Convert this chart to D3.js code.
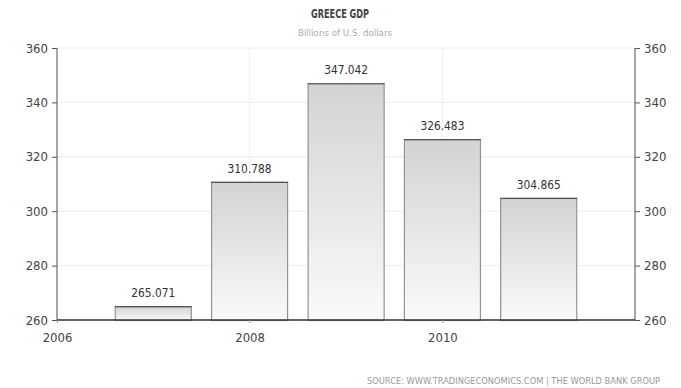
<!DOCTYPE html>
<html>
<head>
<meta charset="utf-8">
<script src="https://cdn.jsdelivr.net/npm/d3@7"></script>
<style>
  html, body { margin: 0; padding: 0; background: #fff; }
  svg { display: block; }
  text { font-family: "DejaVu Sans Condensed", "Liberation Sans Narrow", "DejaVu Sans", sans-serif; }
</style>
</head>
<body>
<svg id="chart" width="681" height="388"></svg>
<script>
// Greece GDP, billions of U.S. dollars
const years = [2007, 2008, 2009, 2010, 2011];
const gdp = [265.071, 310.788, 347.042, 326.483, 304.865];
const yTicks = [260, 280, 300, 320, 340, 360];
const xTickYears = [2006, 2008, 2010];
const gridYears = [2008, 2010];

const svg = d3.select("#chart");
const plotL = 57, plotR = 635, plotT = 48, plotB = 320;

const x = d3.scaleTime()
  .domain([new Date(2006, 0, 1), new Date(2012, 0, 1)])
  .range([plotL, plotR]);
const y = d3.scaleLinear().domain([260, 360]).range([plotB, plotT]);

const defs = svg.append("defs");
const grad = defs.append("linearGradient")
  .attr("id", "barFill").attr("x1", 0).attr("y1", 0).attr("x2", 0).attr("y2", 1);
grad.append("stop").attr("offset", "0%").attr("stop-color", "#d3d3d3");
grad.append("stop").attr("offset", "100%").attr("stop-color", "#fafafa");

// horizontal grid
svg.append("g").selectAll("line").data(yTicks).join("line")
  .attr("x1", plotL).attr("x2", plotR)
  .attr("y1", d => y(d)).attr("y2", d => y(d))
  .attr("stroke", "#ececec").attr("stroke-width", 1);

// vertical grid
svg.append("g").selectAll("line").data(gridYears).join("line")
  .attr("x1", d => x(new Date(d, 0, 1))).attr("x2", d => x(new Date(d, 0, 1)))
  .attr("y1", plotT).attr("y2", plotB)
  .attr("stroke", "#f0f0f0").attr("stroke-width", 1);

// bars centred on the start of each year
const yearW = x(new Date(2007, 0, 1)) - x(new Date(2006, 0, 1));
const bw = yearW * 0.8;
const bars = svg.append("g");
bars.selectAll("rect").data(years).join("rect")
  .attr("x", d => x(new Date(d, 0, 1)) - bw / 2 + 0.5)
  .attr("y", (d, i) => y(gdp[i]) + 0.5)
  .attr("width", bw - 1)
  .attr("height", (d, i) => y(260) - y(gdp[i]))
  .attr("fill", "url(#barFill)")
  .attr("stroke", "#939393").attr("stroke-width", 1.2);
bars.selectAll("line.top").data(years).join("line")
  .attr("class", "top")
  .attr("x1", d => x(new Date(d, 0, 1)) - bw / 2)
  .attr("x2", d => x(new Date(d, 0, 1)) + bw / 2)
  .attr("y1", (d, i) => y(gdp[i]) + 0.5)
  .attr("y2", (d, i) => y(gdp[i]) + 0.5)
  .attr("stroke", "#555").attr("stroke-width", 1.2);

// value labels
svg.append("g").selectAll("text").data(years).join("text")
  .attr("x", d => x(new Date(d, 0, 1)))
  .attr("y", (d, i) => y(gdp[i]) - 9)
  .attr("text-anchor", "middle")
  .attr("font-size", 12).attr("fill", "#333")
  .attr("textLength", 44).attr("lengthAdjust", "spacingAndGlyphs")
  .text((d, i) => gdp[i].toFixed(3));

// left and right value axes
const yLeft = d3.axisLeft(y).tickValues(yTicks).tickSize(5).tickPadding(4);
const gl = svg.append("g").attr("transform", `translate(${plotL},0)`).call(yLeft);
const yRight = d3.axisRight(y).tickValues(yTicks).tickSize(5).tickPadding(4);
const gr = svg.append("g").attr("transform", `translate(${plotR},0)`).call(yRight);
[gl, gr].forEach(g => {
  g.select(".domain").attr("stroke", "#888").attr("stroke-width", 1.5)
    .attr("d", `M0,${plotT}V${plotB}`);
  g.selectAll(".tick line").attr("stroke", "#555");
  g.selectAll(".tick text").attr("font-size", 13).attr("fill", "#444")
    .style("font-family", "'DejaVu Sans Condensed', sans-serif");
});

// time axis
const xAxis = d3.axisBottom(x)
  .tickValues(xTickYears.map(d => new Date(d, 0, 1)))
  .tickFormat(d3.timeFormat("%Y")).tickSize(3).tickPadding(10);
const gx = svg.append("g").attr("transform", `translate(0,${plotB})`).call(xAxis);
gx.select(".domain").attr("stroke", "#333").attr("stroke-width", 1.5)
  .attr("d", `M${plotL},0H${plotR}`);
gx.selectAll(".tick line").attr("stroke", "#999");
gx.selectAll(".tick text").attr("font-size", 13).attr("fill", "#444")
  .style("font-family", "'DejaVu Sans Condensed', sans-serif");

// titles
svg.append("text").attr("x", 340).attr("y", 18).attr("text-anchor", "middle")
  .attr("font-size", 12).attr("font-weight", "bold").attr("fill", "#444")
  .attr("textLength", 58).attr("lengthAdjust", "spacingAndGlyphs")
  .text("GREECE GDP");
svg.append("text").attr("x", 345).attr("y", 36).attr("text-anchor", "middle")
  .attr("font-size", 8.5).attr("fill", "#aaa")
  .attr("textLength", 94).attr("lengthAdjust", "spacingAndGlyphs")
  .text("Billions of U.S. dollars");
svg.append("text").attr("x", 660).attr("y", 384).attr("text-anchor", "end")
  .attr("font-size", 8.5).attr("fill", "#999")
  .attr("textLength", 293).attr("lengthAdjust", "spacingAndGlyphs")
  .text("SOURCE: WWW.TRADINGECONOMICS.COM  |  THE WORLD BANK GROUP");
</script>
</body>
</html>
